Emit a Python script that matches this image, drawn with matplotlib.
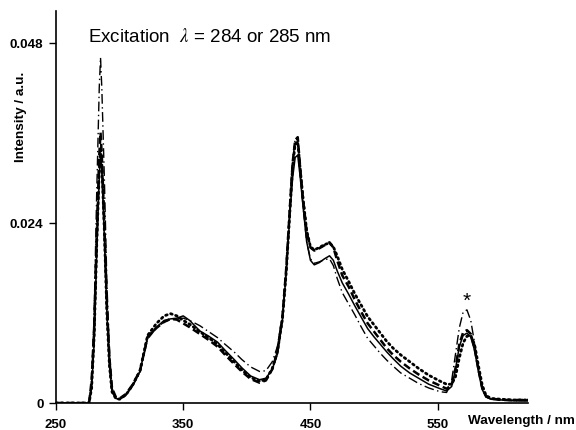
import matplotlib
matplotlib.use("Agg")
import matplotlib.pyplot as plt
import numpy as np

plt.rcParams['font.family'] = ['Liberation Sans', 'DejaVu Sans']
plt.rcParams['mathtext.fontset'] = 'stix'

# Wavelength grid (nm)
wavelength = [
    250, 270, 276, 278, 280, 282, 284, 285, 286, 288,
    290, 292, 294, 297, 300, 305, 310, 316, 322, 329,
    335, 340, 345, 350, 355, 363, 370, 377, 383, 390,
    396, 403, 410, 415, 420, 424, 428, 431, 434, 436,
    438, 440, 442, 444, 447, 450, 453, 457, 461, 465,
    468, 471, 475, 480, 485, 490, 495, 500, 505, 510,
    515, 521, 528, 535, 543, 552, 557, 561, 564, 567,
    570, 573, 576, 579, 582, 585, 588, 592, 600, 610,
    621]

intensity_solid = [
    0, 0, 0, 0.002, 0.008, 0.020, 0.030, 0.033, 0.031, 0.022,
    0.012, 0.005, 0.0015, 0.0006, 0.0005, 0.0011, 0.0023, 0.0042, 0.0088, 0.0101,
    0.0110, 0.0112, 0.0113, 0.0116, 0.0110, 0.0096, 0.0089, 0.0081, 0.0070, 0.0058,
    0.0047, 0.0036, 0.0031, 0.0033, 0.0045, 0.0065, 0.0110, 0.0175, 0.0255, 0.0300,
    0.0327, 0.0330, 0.0300, 0.0265, 0.0215, 0.0190, 0.0184, 0.0187, 0.0192, 0.0196,
    0.0190, 0.0176, 0.0160, 0.0145, 0.0129, 0.0114, 0.0099, 0.0088, 0.0078, 0.0068,
    0.0059, 0.0049, 0.0040, 0.0033, 0.0025, 0.0019, 0.0016, 0.0022, 0.0045, 0.0075,
    0.0090, 0.0093, 0.0088, 0.0070, 0.0042, 0.0018, 0.0008, 0.0005, 0.0004, 0.0003,
    0.0003]

intensity_dashed = [
    0, 0, 0, 0.003, 0.010, 0.022, 0.033, 0.036, 0.033, 0.024,
    0.013, 0.006, 0.002, 0.0008, 0.0006, 0.0012, 0.0024, 0.0043, 0.0088, 0.0100,
    0.0108, 0.0112, 0.0111, 0.0106, 0.0101, 0.0092, 0.0084, 0.0075, 0.0064, 0.0052,
    0.0042, 0.0032, 0.0027, 0.0030, 0.0045, 0.0068, 0.0115, 0.0180, 0.0265, 0.0320,
    0.0350, 0.0354, 0.0312, 0.0275, 0.0228, 0.0207, 0.0203, 0.0206, 0.0210, 0.0214,
    0.0207, 0.0190, 0.0170, 0.0155, 0.0137, 0.0121, 0.0106, 0.0095, 0.0084, 0.0073,
    0.0064, 0.0055, 0.0046, 0.0038, 0.0030, 0.0023, 0.0019, 0.0024, 0.0046, 0.0078,
    0.0094, 0.0097, 0.0092, 0.0073, 0.0045, 0.0020, 0.0009, 0.0006, 0.0004, 0.0004,
    0.0004]

intensity_dotted = [
    0, 0, 0, 0.002, 0.009, 0.021, 0.031, 0.034, 0.032, 0.023,
    0.012, 0.005, 0.0015, 0.0006, 0.0005, 0.0011, 0.0023, 0.0043, 0.0090, 0.0106,
    0.0116, 0.0119, 0.0116, 0.0110, 0.0105, 0.0095, 0.0087, 0.0078, 0.0067, 0.0055,
    0.0044, 0.0034, 0.0029, 0.0031, 0.0046, 0.0068, 0.0112, 0.0175, 0.0260, 0.0315,
    0.0345, 0.0348, 0.0310, 0.0275, 0.0230, 0.0208, 0.0204, 0.0207, 0.0211, 0.0213,
    0.0208, 0.0196, 0.0178, 0.0162, 0.0145, 0.0130, 0.0115, 0.0104, 0.0093, 0.0082,
    0.0073, 0.0064, 0.0055, 0.0046, 0.0037, 0.0029, 0.0025, 0.0025, 0.0035, 0.0060,
    0.0080, 0.0089, 0.0090, 0.0078, 0.0050, 0.0024, 0.0010, 0.0006, 0.0005, 0.0004,
    0.0004]

intensity_dashdot = [
    0, 0, 0, 0.003, 0.012, 0.028, 0.042, 0.046, 0.042, 0.030,
    0.016, 0.007, 0.002, 0.0007, 0.0005, 0.0010, 0.0022, 0.0040, 0.0085, 0.0100,
    0.0108, 0.0111, 0.0112, 0.0113, 0.0110, 0.0103, 0.0095, 0.0087, 0.0078, 0.0068,
    0.0058, 0.0048, 0.0042, 0.0043, 0.0055, 0.0075, 0.0118, 0.0180, 0.0268, 0.0322,
    0.0352, 0.0350, 0.0305, 0.0265, 0.0215, 0.0192, 0.0186, 0.0188, 0.0191, 0.0192,
    0.0183, 0.0166, 0.0147, 0.0132, 0.0117, 0.0101, 0.0086, 0.0076, 0.0066, 0.0057,
    0.0049, 0.0040, 0.0033, 0.0026, 0.0020, 0.0015, 0.0014, 0.0030, 0.0065, 0.0100,
    0.0121, 0.0124, 0.0110, 0.0080, 0.0045, 0.0018, 0.0008, 0.0005, 0.0004, 0.0003,
    0.0003]

x_ticks = [250, 350, 450, 550]
y_ticks = [0, 0.024, 0.048]
y_tick_labels = ["0", "0.024", "0.048"]

fig = plt.figure(figsize=(5.76, 4.31), dpi=100)
ax = fig.add_axes([56/576, 27/431, (528-56)/576, (419-27)/431])

ax.plot(wavelength, intensity_dotted, color='black', lw=2.0, linestyle=(0, (0.6, 1.3)),
        dash_capstyle='round')
ax.plot(wavelength, intensity_dashed, color='black', lw=1.8, linestyle=(0, (3.0, 1.5)))
ax.plot(wavelength, intensity_solid, color='black', lw=1.1, linestyle='-')
ax.plot(wavelength, intensity_dashdot, color='black', lw=1.0,
        linestyle=(0, (7, 2.5, 1, 2.5)))

ax.set_xlim(250, 621)
ax.set_ylim(0, 0.0522)

for s in ['top', 'right']:
    ax.spines[s].set_visible(False)
for s in ['left', 'bottom']:
    ax.spines[s].set_linewidth(1.2)

ax.set_xticks(x_ticks)
ax.set_xticklabels([str(v) for v in x_ticks], fontsize=9.5, fontweight='bold')
ax.set_yticks(y_ticks)
ax.set_yticklabels(y_tick_labels, fontsize=9.7, fontweight='bold')
ax.tick_params(axis='x', direction='out', length=5, width=1, pad=5.5)
ax.tick_params(axis='y', direction='out', length=5, width=1, pad=4)

fig.text(468/576, 1 - 421/431, "Wavelength / nm", fontsize=9.7, fontweight='bold',
         ha='left', va='center')
fig.text(21/576, 1 - 117/431, "Intensity / a.u.", fontsize=9.7, fontweight='bold',
         rotation=90, ha='center', va='center')
fig.text(88/576, 1 - 37/431, "Excitation  $\\lambda$ = 284 or 285 nm", fontsize=13.5,
         ha='left', va='center')
ax.text(573, 0.0124, "*", fontsize=15, ha='center', va='bottom')

fig.savefig("out.png", dpi=100)
